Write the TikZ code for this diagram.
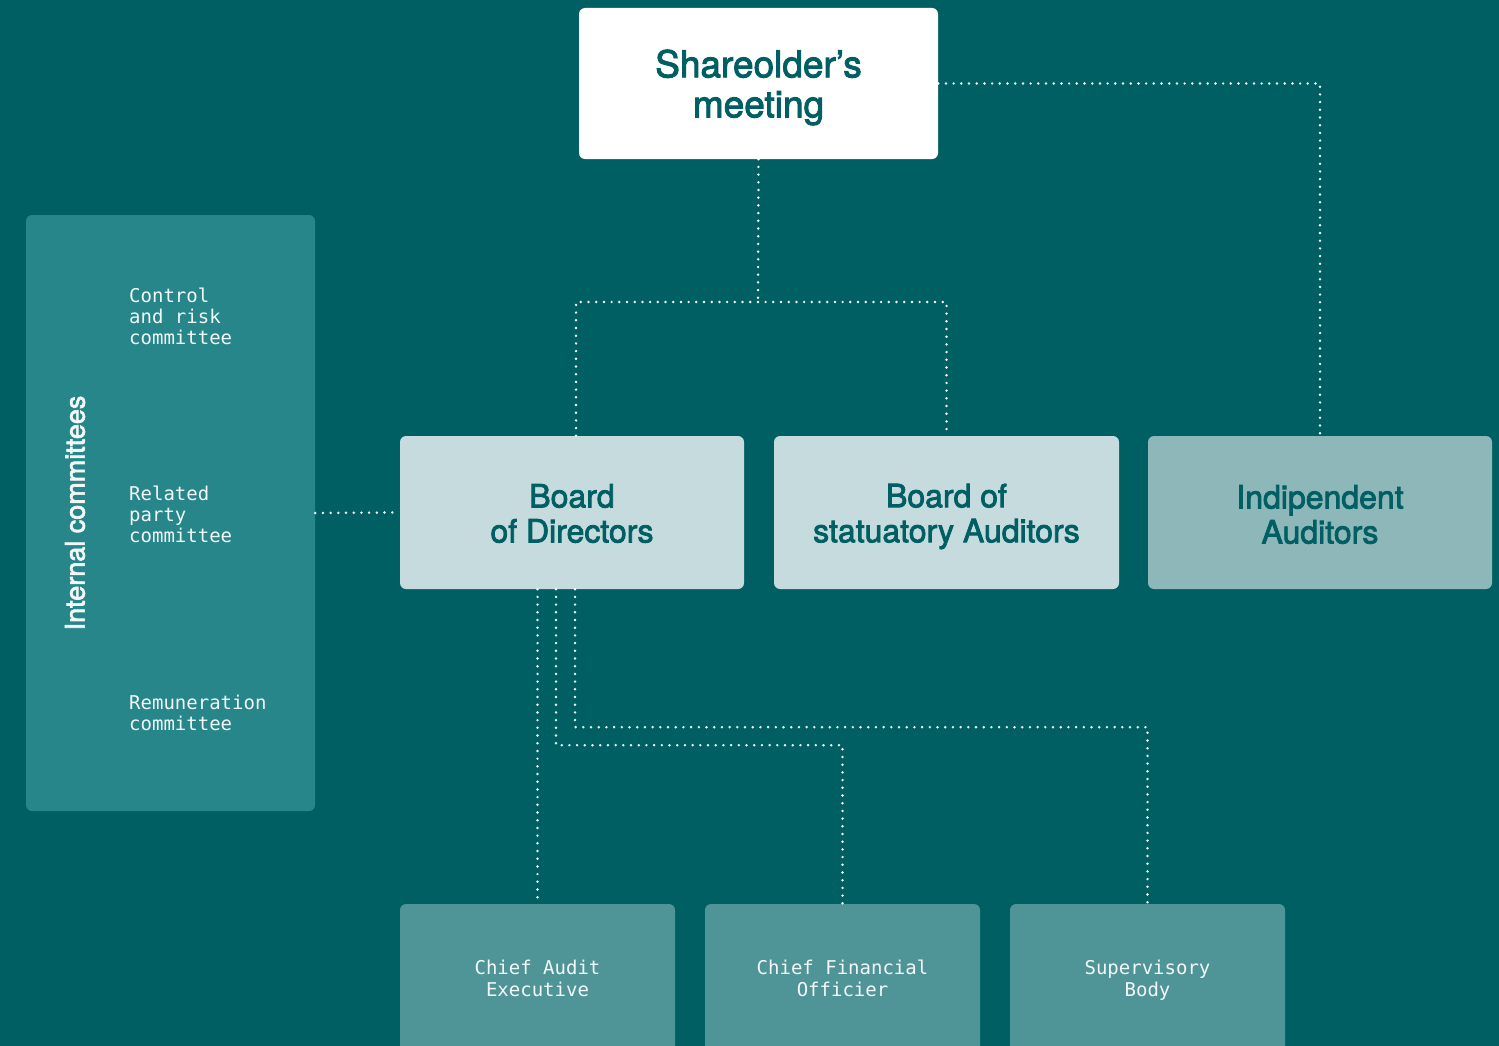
\documentclass[tikz,border=0pt]{standalone}
\usepackage{fontspec}
\newfontfamily\headfont{TeX Gyre Heros}[FakeBold=2.5]
\newfontfamily\monofnt{DejaVu Sans Mono}
\definecolor{bgteal}{HTML}{005F62}
\definecolor{panelteal}{HTML}{26868A}
\definecolor{lightbox}{HTML}{C5DBDE}
\definecolor{indepbox}{HTML}{8DB7B9}
\definecolor{lowbox}{HTML}{4F9598}
\definecolor{darktext}{HTML}{005F62}
\definecolor{lighttext}{HTML}{F2F7F7}
\begin{document}
\begin{tikzpicture}[x=1pt,y=-1pt,
  box/.style={rounded corners=6pt, inner sep=0pt, align=center},
  headtext/.style={font=\headfont\fontsize{32}{35}\selectfont, text=darktext, align=center, inner sep=0pt},
  monotext/.style={font=\monofnt\fontsize{19}{22}\selectfont, text=lighttext, inner sep=0pt, align=center},
  committee/.style={monotext, anchor=west, align=left, font=\monofnt\fontsize{19}{21}\selectfont},
  conn/.style={draw=white, line width=2.7pt, dash pattern=on 0pt off 7.7pt, line cap=round}
]
\fill[bgteal] (0,0) rectangle (1499,1046);
\useasboundingbox (0,0) rectangle (1499,1046);
\clip (0,0) rectangle (1499,1046);

% top
\node[box, fill=white, minimum width=359pt, minimum height=151pt] (share) at (758.5,83.5) {};
\node[headtext, font=\headfont\fontsize{37}{40}\selectfont] (sharet) at (758.5,87.5) {Shareolder’s\\meeting};

% left panel
\node[box, fill=panelteal, minimum width=289pt, minimum height=596pt] (panel) at (170.5,513) {};
\node[rotate=90, inner sep=0pt, text=lighttext, font=\headfont\fontsize{27}{30}\selectfont] (ic) at (75,513) {Internal committees};
\node[committee] (crc) at (129,316) {Control\\and risk\\committee};
\node[committee] (rpc) at (129,514) {Related\\party\\committee};
\node[committee] (rc) at (129,713) {Remuneration\\committee};

% middle row
\node[box, fill=lightbox, minimum width=344pt, minimum height=153pt] (bod) at (572,512.5) {};
\node[headtext] (bodt) at (572,513.5) {Board\\of Directors};
\node[box, fill=lightbox, minimum width=345pt, minimum height=153pt] (bsa) at (946.5,512.5) {};
\node[headtext] (bsat) at (946.5,516.5) {Board of\\statuatory Auditors};
\node[box, fill=indepbox, minimum width=344pt, minimum height=153pt] (ind) at (1320,512.5) {};
\node[headtext] (indt) at (1320,514.5) {Indipendent\\Auditors};

% bottom row
\node[box, fill=lowbox, minimum width=275pt, minimum height=148pt] (cae) at (537.5,978) {};
\node[monotext] (caet) at (537.5,978.5) {Chief Audit\\Executive};
\node[box, fill=lowbox, minimum width=275pt, minimum height=148pt] (cfo) at (842.5,978) {};
\node[monotext] (cfot) at (842.5,978.5) {Chief Financial\\Officier};
\node[box, fill=lowbox, minimum width=275pt, minimum height=148pt] (sup) at (1147.5,978) {};
\node[monotext] (supt) at (1147.5,980) {Supervisory\\Body};

% connectors
\coordinate (split) at (758,302);
\draw[conn] (share.east) -| (ind.north);
\draw[conn] (share.south) -- (split);
\draw[conn] ([xshift=4pt]bod.north) |- (split) -| (bsa.north);
\draw[conn] (panel.east) -- (bod.west);
\draw[conn] (cae.north |- bod.south) -- (cae.north);
\draw[conn] ([xshift=-16pt]bod.south) -- ++(0,156) -| (cfo.north);
\draw[conn] ([xshift=3pt]bod.south) -- ++(0,138) -| (sup.north);
\end{tikzpicture}
\end{document}
